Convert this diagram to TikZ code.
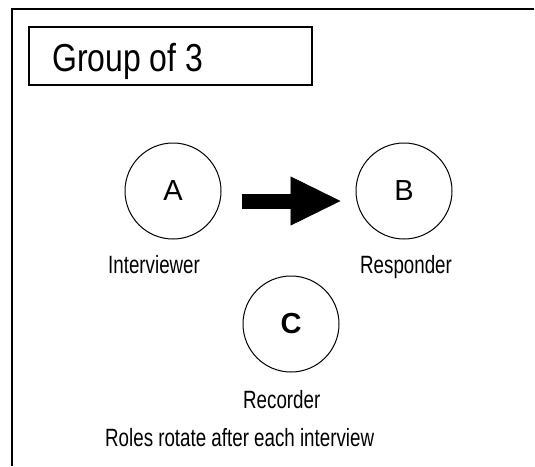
\documentclass[tikz,border=0pt]{standalone}
\usepackage{fontspec}
\setmainfont{Liberation Sans}
\newfontfamily\narrowfont{Liberation Sans}[FakeStretch=0.75]
\newfontfamily\titlefont{Liberation Sans}[FakeStretch=0.82]
\usetikzlibrary{arrows.meta}

\begin{document}
\begin{tikzpicture}[line join=miter,x=1pt,y=-1pt,
  role/.style={circle,draw,line width=1pt,minimum size=96pt,inner sep=0pt,font=\fontsize{29}{30}\selectfont},
  rolename/.style={anchor=base west,inner sep=0pt,font=\narrowfont\fontsize{25}{30}\selectfont},
  bigarrow/.style={line width=15pt,line cap=butt,-{Triangle[length=50pt,width=49pt,line width=0.5pt]}}]
\useasboundingbox (0,0) rectangle (535,466);
% frame and title
\draw [line width=2pt] (534,9) -- (12,9) -- (12,466);
\draw [line width=2pt] (29,27) rectangle (312,85);
\draw (52,71) node[anchor=base west,inner sep=0pt,font=\titlefont\fontsize{39}{40}\selectfont] (title) {Group of 3};
% the three roles
\node [role] (A) at (173,191) {A};
\node [role] (B) at (404,191) {B};
\node [role] (C) at (291,324) {\bfseries C};
\draw [bigarrow] ([shift={(20,10)}]A.east) -- ([shift={(-15,10)}]B.west);
\draw (108,273) node[rolename] (interviewer) {Interviewer};
\draw (360,273) node[rolename] (responder) {Responder};
\draw (243,408) node[rolename] (recorder) {Recorder};
\draw (105,446) node[rolename] (note) {Roles rotate after each interview};
\end{tikzpicture}
\end{document}
